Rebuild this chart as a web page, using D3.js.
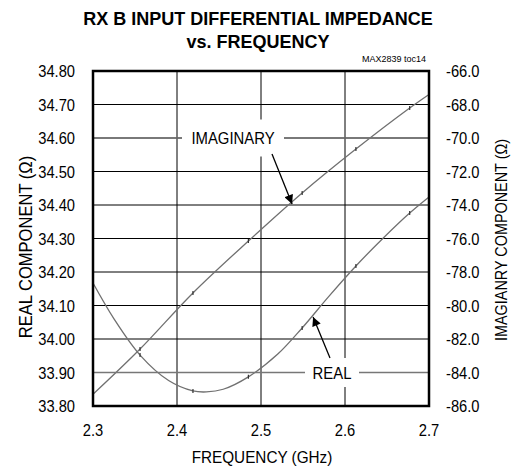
<!DOCTYPE html>
<html>
<head>
<meta charset="utf-8">
<script src="https://cdn.jsdelivr.net/npm/d3@7"></script>
<style>
  body { margin: 0; background: #fff; }
  svg { font-family: Arial, "Liberation Sans", sans-serif; }
</style>
</head>
<body>
<div id="canvas"></div>
<script>
// data
var freqTicks = [2.3, 2.4, 2.5, 2.6, 2.7];
var realTicks = [33.8, 33.9, 34.0, 34.1, 34.2, 34.3, 34.4, 34.5, 34.6, 34.7, 34.8];
var imagTicks = [-86, -84, -82, -80, -78, -76, -74, -72, -70, -68, -66];

var realFreq = [2.30, 2.325, 2.356, 2.39, 2.419, 2.435, 2.455, 2.485, 2.52, 2.549, 2.58, 2.613, 2.645, 2.677, 2.70];
var realVal  = [34.167, 34.06, 33.952, 33.876, 33.845, 33.842, 33.850, 33.887, 33.955, 34.033, 34.125, 34.218, 34.30, 34.376, 34.424];

var imagFreq = [2.30, 2.356, 2.419, 2.485, 2.549, 2.613, 2.677, 2.70];
var imagVal  = [-85.3, -82.6, -79.25, -76.15, -73.28, -70.66, -68.21, -67.4];

// measured points (small tick marks on the traces)
var markFreq = [2.356, 2.419, 2.485, 2.549, 2.613, 2.677];

var W = 513, H = 473;
var m = {t:71, r:84, b:67, l:93};

var svg = d3.select('#canvas').append('svg')
    .attr('width', W).attr('height', H);

var x = d3.scaleLinear().domain([2.3, 2.7]).range([m.l, W - m.r]);
var yL = d3.scaleLinear().domain([33.8, 34.8]).range([H - m.b, m.t]);
var yR = d3.scaleLinear().domain([-86, -66]).range([H - m.b, m.t]);

// text squeezed a bit horizontally, the original uses a narrow face
function txt(px, py, s, size, anchor, sx, rot, weight){
    var t = 'translate(' + px + ',' + py + ')';
    if (rot) t += ' rotate(' + rot + ')';
    t += ' scale(' + sx + ',1)';
    return svg.append('text').attr('transform', t)
        .attr('text-anchor', anchor).attr('font-size', size)
        .attr('font-weight', weight || 'normal').text(s);
}

var defs = svg.append('defs');
defs.append('marker')
    .attr('id', 'arr')
    .attr('viewBox', '0 0 10 10')
    .attr('refX', 10).attr('refY', 5)
    .attr('markerWidth', 10).attr('markerHeight', 9)
    .attr('markerUnits', 'userSpaceOnUse')
    .attr('orient', 'auto')
    .append('path').attr('d', 'M0,0 L10,5 L0,10 z').attr('fill', '#000');

// grid
var grid = svg.append('g');
grid.selectAll('.gx').data(freqTicks.slice(1, -1)).enter().append('line')
    .attr('x1', function(d){ return x(d); }).attr('x2', function(d){ return x(d); })
    .attr('y1', m.t).attr('y2', H - m.b)
    .attr('stroke', '#000').attr('stroke-width', 1);
grid.selectAll('.gy').data(realTicks.slice(1, -1)).enter().append('line')
    .attr('x1', m.l).attr('x2', W - m.r)
    .attr('y1', function(d){ return yL(d); }).attr('y2', function(d){ return yL(d); })
    .attr('stroke', '#000').attr('stroke-width', 1);

// curves
var lineR = d3.line().x(function(d){ return x(d[0]); }).y(function(d){ return yL(d[1]); })
    .curve(d3.curveCatmullRom);
var lineI = d3.line().x(function(d){ return x(d[0]); }).y(function(d){ return yR(d[1]); })
    .curve(d3.curveCatmullRom);

var realPts = d3.zip(realFreq, realVal);
var imagPts = d3.zip(imagFreq, imagVal);

svg.append('path').datum(realPts).attr('d', lineR)
    .attr('fill', 'none').attr('stroke', '#707070').attr('stroke-width', 1.3);
svg.append('path').datum(imagPts).attr('d', lineI)
    .attr('fill', 'none').attr('stroke', '#707070').attr('stroke-width', 1.3);

// small marks at measured points
var realInterp = function(f){
    var i = d3.bisectLeft(realFreq, f);
    if (realFreq[i] === f) return realVal[i];
    var t = (f - realFreq[i-1]) / (realFreq[i] - realFreq[i-1]);
    return realVal[i-1] + t * (realVal[i] - realVal[i-1]);
};
var imagInterp = function(f){
    var i = d3.bisectLeft(imagFreq, f);
    if (imagFreq[i] === f) return imagVal[i];
    var t = (f - imagFreq[i-1]) / (imagFreq[i] - imagFreq[i-1]);
    return imagVal[i-1] + t * (imagVal[i] - imagVal[i-1]);
};
svg.selectAll('.mr').data(markFreq).enter().append('line')
    .attr('x1', function(d){ return x(d); }).attr('x2', function(d){ return x(d); })
    .attr('y1', function(d){ return yL(realInterp(d)) - 2; })
    .attr('y2', function(d){ return yL(realInterp(d)) + 2; })
    .attr('stroke', '#333').attr('stroke-width', 1.2);
svg.selectAll('.mi').data(markFreq).enter().append('line')
    .attr('x1', function(d){ return x(d); }).attr('x2', function(d){ return x(d); })
    .attr('y1', function(d){ return yR(imagInterp(d)) - 2; })
    .attr('y2', function(d){ return yR(imagInterp(d)) + 2; })
    .attr('stroke', '#333').attr('stroke-width', 1.2);

// labels with leader lines
function label(s, cx, val, bw, bh){
    var cy = yL(val);
    svg.append('line').attr('x1', m.l).attr('x2', W - m.r)
        .attr('y1', cy).attr('y2', cy)
        .attr('stroke', '#777').attr('stroke-width', 1.5);
    svg.append('rect').attr('x', cx - bw/2).attr('y', cy - bh/2)
        .attr('width', bw).attr('height', bh).attr('fill', '#fff');
    txt(cx, cy + 6, s, 16, 'middle', 0.93);
}
label('IMAGINARY', 233, 34.6, 102, 37);
label('REAL', 332, 33.9, 54, 29);

// arrows
svg.append('line').attr('x1', 272).attr('y1', 154).attr('x2', x(2.537)).attr('y2', yR(imagInterp(2.537)) + 2)
    .attr('stroke', '#000').attr('stroke-width', 1.3).attr('marker-end', 'url(#arr)');
svg.append('line').attr('x1', 330).attr('y1', 358).attr('x2', x(2.562)).attr('y2', yL(realInterp(2.562)) + 2)
    .attr('stroke', '#000').attr('stroke-width', 1.3).attr('marker-end', 'url(#arr)');

// frame
svg.append('rect').attr('x', m.l).attr('y', m.t)
    .attr('width', W - m.r - m.l).attr('height', H - m.b - m.t)
    .attr('fill', 'none').attr('stroke', '#000').attr('stroke-width', 2.5);

// tick labels
var f2 = d3.format('.2f'), f1 = d3.format('.1f');
realTicks.forEach(function(d){ txt(75, yL(d) + 6, f2(d), 16, 'end', 0.92); });
imagTicks.forEach(function(d){ txt(446, yR(d) + 6, f1(d).replace('\u2212', '-'), 16, 'start', 0.92); });
freqTicks.forEach(function(d){ txt(x(d), 436, f1(d), 16, 'middle', 0.92); });

// titles
txt(258, 25, 'RX B INPUT DIFFERENTIAL IMPEDANCE', 18, 'middle', 1, 0, 'bold');
txt(258, 48, 'vs. FREQUENCY', 18, 'middle', 1, 0, 'bold');
txt(426, 62, 'MAX2839 toc14', 9, 'end', 1);
txt(262, 463, 'FREQUENCY (GHz)', 17, 'middle', 0.9);
txt(32, 247, 'REAL COMPONENT (\u03A9)', 18, 'middle', 0.92, -90);
txt(507, 240, 'IMAGIANRY COMPONENT (\u03A9)', 16, 'middle', 0.9, -90);
</script>
</body>
</html>
